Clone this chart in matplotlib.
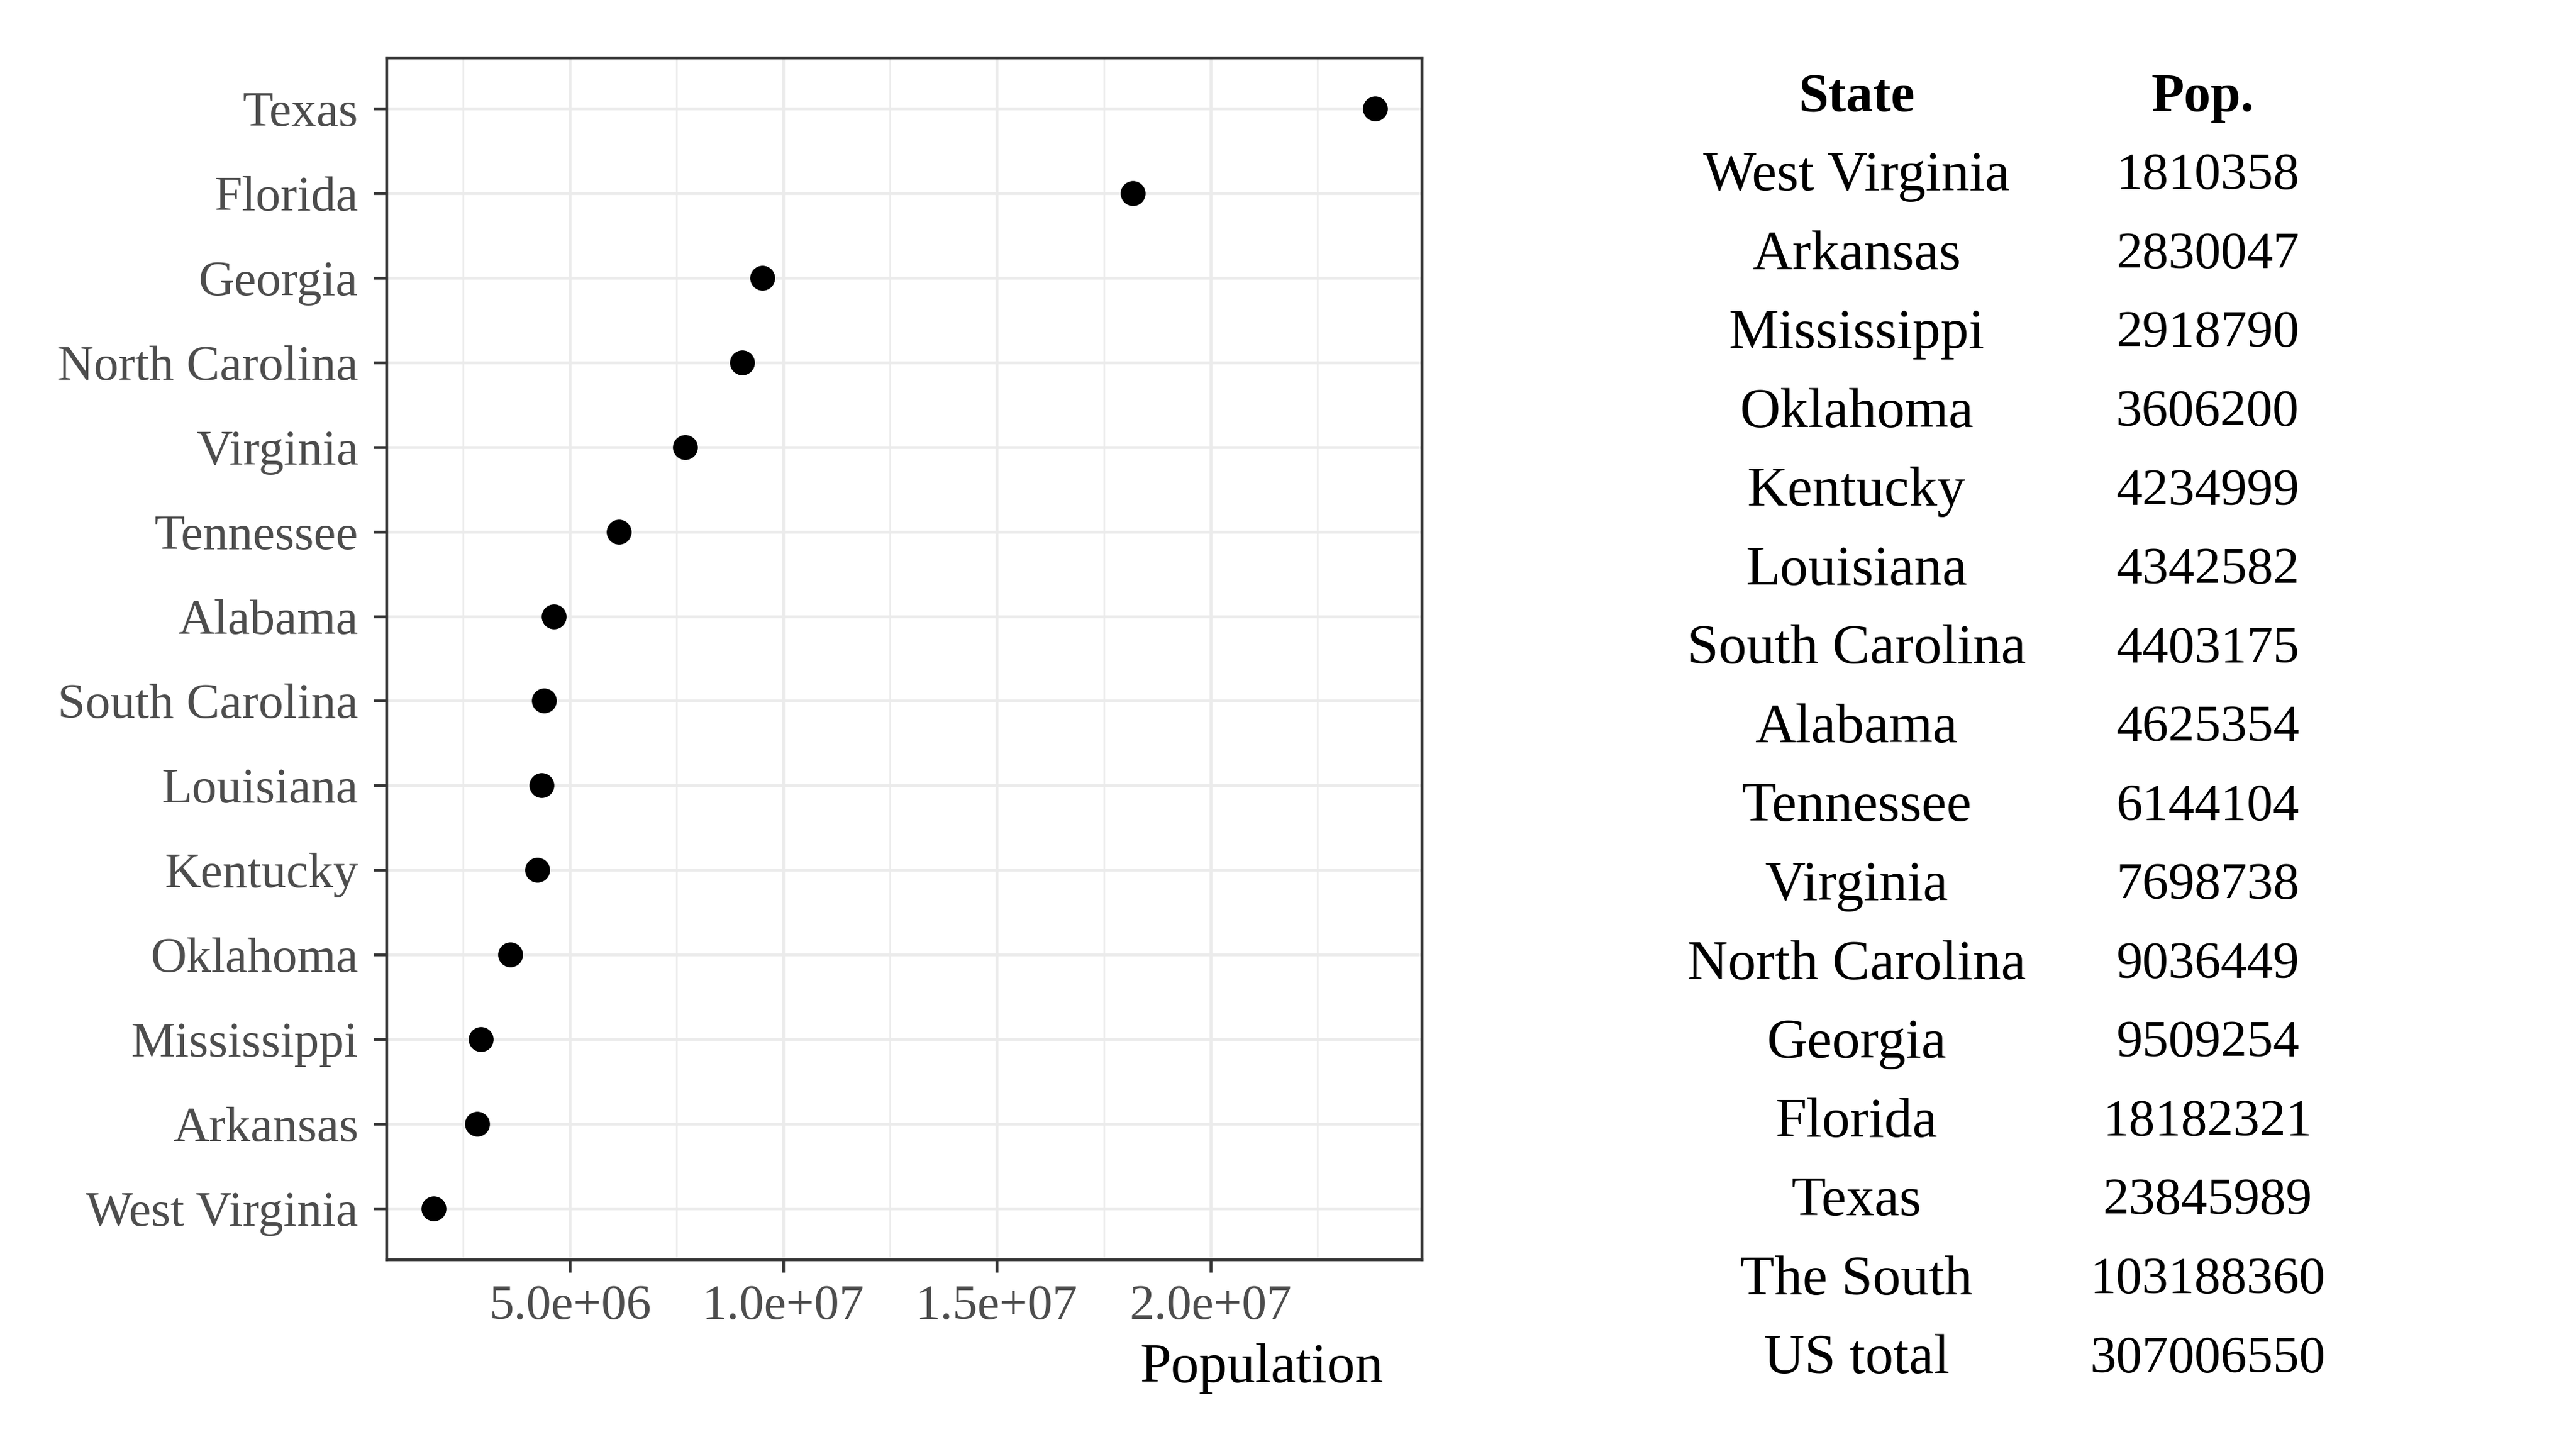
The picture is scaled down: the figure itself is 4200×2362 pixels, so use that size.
import numpy as np
import matplotlib.pyplot as plt
from matplotlib.ticker import FixedLocator

plt.rcParams['font.family'] = ['Liberation Serif', 'DejaVu Serif']

# states in plot order (bottom to top) and their population
states = ['West Virginia', 'Arkansas', 'Mississippi', 'Oklahoma', 'Kentucky',
          'Louisiana', 'South Carolina', 'Alabama', 'Tennessee', 'Virginia',
          'North Carolina', 'Georgia', 'Florida', 'Texas']
population = [1810358, 2830047, 2918790, 3606200, 4234999, 4342582, 4403175,
              4625354, 6144104, 7698738, 9036449, 9509254, 18182321, 23845989]

# extra rows of the table
total_labels = ['The South', 'US total']
totals = [103188360, 307006550]

x_ticks = [5e6, 1e7, 1.5e7, 2e7]
x_tick_labels = ['5.0e+06', '1.0e+07', '1.5e+07', '2.0e+07']

fig = plt.figure(figsize=(14, 2362 / 300), dpi=300)
ax = fig.add_axes([0.150, 0.131, 0.402, 0.829])

ypos = np.arange(len(states))
ax.scatter(population, ypos, s=95, color='black', zorder=3, linewidths=0)

# ggplot style expansion
lo, hi = min(population), max(population)
pad = 0.05 * (hi - lo)
ax.set_xlim(lo - pad, hi + pad)
ax.set_ylim(-0.6, len(states) - 1 + 0.6)

ax.set_yticks(ypos)
ax.set_yticklabels(states)
ax.set_xticks(x_ticks)
ax.set_xticklabels(x_tick_labels)
ax.xaxis.set_minor_locator(FixedLocator([2.5e6, 7.5e6, 1.25e7, 1.75e7, 2.25e7]))

ax.grid(True, which='major', color='#EBEBEB', linewidth=1.1)
ax.grid(True, which='minor', axis='x', color='#EBEBEB', linewidth=0.6)
ax.set_axisbelow(True)
for sp in ax.spines.values():
    sp.set_color('#333333')
    sp.set_linewidth(1.1)
ax.tick_params(axis='both', which='major', length=5, width=1.1, color='#333333',
               labelcolor='#4D4D4D', labelsize=19.5)
ax.tick_params(axis='y', which='major', pad=6)
ax.tick_params(axis='x', which='major', pad=5)
ax.tick_params(axis='x', which='minor', length=0)

fig.text(0.537, 0.0555, 'Population', ha='right', va='center', fontsize=22)

# table on the right
col_state = 0.7207
col_pop = 0.857
fig.text(col_state, 1 - 59.5 / 882, 'State', ha='center', va='center',
         fontsize=21, fontweight='bold')
fig.text(0.855, 1 - 59.5 / 882, 'Pop.', ha='center', va='center',
         fontsize=21, fontweight='bold')

rows = list(zip(states, population)) + list(zip(total_labels, totals))
for i, (name, val) in enumerate(rows):
    y = 1 - (107.5 + 48.0 * i) / 882
    fig.text(col_state, y, name, ha='center', va='center', fontsize=22)
    fig.text(col_pop, y, str(val), ha='center', va='center', fontsize=20.5)

fig.savefig('out.png', dpi=300)
